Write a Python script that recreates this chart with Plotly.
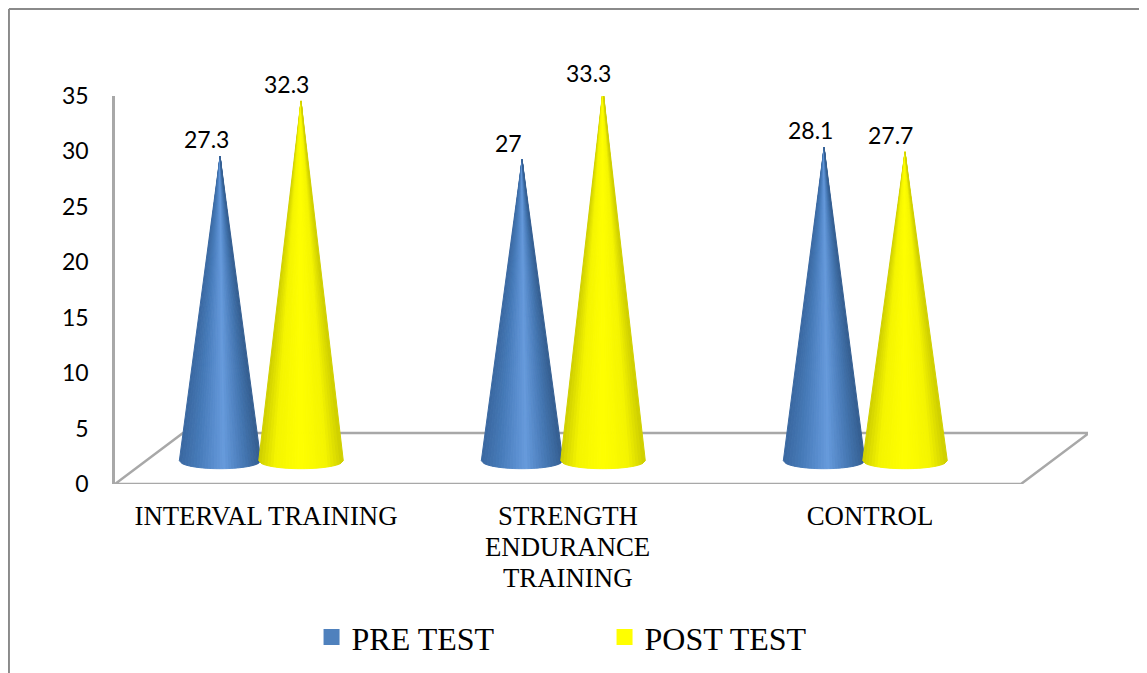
import plotly.graph_objects as go

categories = ["INTERVAL TRAINING", "STRENGTH", "CONTROL"]
category_extra_lines = {1: ["ENDURANCE", "TRAINING"]}
pre_test = [27.3, 27, 28.1]
post_test = [32.3, 33.3, 27.7]
y_ticks = [0, 5, 10, 15, 20, 25, 30, 35]

FLOOR_DX, FLOOR_DY = 0.225, 4.6
BASE_Y, BASE_B, APEX_Y = 2.1, 0.72, 2.25
N = 28


def lerp(a, b, t):
    return tuple(a[i] + (b[i] - a[i]) * t for i in range(3))


def shade(stops, u):
    for (u0, c0), (u1, c1) in zip(stops, stops[1:]):
        if u <= u1:
            c = lerp(c0, c1, (u - u0) / (u1 - u0))
            return "rgb(%d,%d,%d)" % tuple(round(v) for v in c)
    return "rgb(%d,%d,%d)" % stops[-1][1]


BLUE = [(-1, (58, 104, 160)), (-0.55, (70, 122, 184)), (0.1, (102, 154, 220)),
        (0.6, (70, 120, 180)), (1, (52, 94, 144))]
YELLOW = [(-1, (205, 205, 0)), (-0.6, (245, 245, 0)), (0, (255, 255, 0)),
          (0.6, (245, 245, 0)), (1, (205, 205, 0))]


def cone_traces(values, dx, half_w, stops):
    out = []
    for k in range(N):
        u0 = -1 + 2 * k / N
        u1 = -1 + 2 * (k + 1) / N
        xs, ys = [], []
        for i, v in enumerate(values):
            cx = i + dx
            apex = v + APEX_Y
            y0 = BASE_Y - BASE_B * (1 - u0 * u0) ** 0.5
            y1 = BASE_Y - BASE_B * (1 - u1 * u1) ** 0.5
            xs += [cx, cx + half_w * u0, cx + half_w * u1, cx, None]
            ys += [apex, y0, y1, apex, None]
        color = shade(stops, (u0 + u1) / 2)
        out.append(go.Scatter(x=xs, y=ys, mode="lines", fill="toself", fillcolor=color,
                              line=dict(color=color, width=1), showlegend=False,
                              hoverinfo="skip", cliponaxis=False))
    return out


fig = go.Figure()

fig.add_trace(go.Scatter(
    x=[-0.5, -0.5 + FLOOR_DX, 2.5 + FLOOR_DX, 2.5, -0.5],
    y=[0, FLOOR_DY, FLOOR_DY, 0, 0],
    mode="lines", line=dict(color="#a8a8a8", width=2.5), showlegend=False,
    hoverinfo="skip", cliponaxis=False))

for t in cone_traces(pre_test, -0.152, 0.135, BLUE):
    fig.add_trace(t)
for t in cone_traces(post_test, 0.116, 0.14, YELLOW):
    fig.add_trace(t)

# legend entries
fig.add_trace(go.Scatter(x=[None], y=[None], mode="markers", name="PRE TEST",
                         marker=dict(symbol="square", size=16, color="#4F81BD")))
fig.add_trace(go.Scatter(x=[None], y=[None], mode="markers", name="POST TEST",
                         marker=dict(symbol="square", size=16, color="#FFFF00")))

annotations = []
for vals, dx, xs in ((pre_test, -0.152, -14), (post_test, 0.116, -15)):
    for i, v in enumerate(vals):
        annotations.append(dict(x=i + dx, y=v, xref="x", yref="y", text=str(v),
                                showarrow=False, yshift=42, xshift=xs, yanchor="middle",
                                font=dict(family="Lato", size=23, color="#000000")))
for i, lines in category_extra_lines.items():
    for j, line in enumerate(lines):
        annotations.append(dict(x=i, y=0, xref="x", yref="y", text=line, showarrow=False,
                                yshift=-63 - 31 * j, yanchor="middle",
                                font=dict(family="Liberation Serif", size=26.8, color="#000000")))

fig.update_layout(
    width=1139, height=665, autosize=False,
    paper_bgcolor="white", plot_bgcolor="white",
    margin=dict(l=107, r=59, t=88, b=189, autoexpand=False),
    showlegend=True,
    legend=dict(orientation="h", x=0.202, y=-0.395, xref="paper", yref="paper", xanchor="left",
                yanchor="middle", entrywidth=248, entrywidthmode="pixels", itemwidth=30,
                font=dict(family="Liberation Serif", size=32, color="#000000"),
                bgcolor="rgba(0,0,0,0)"),
    annotations=annotations,
    shapes=[
        dict(type="line", xref="paper", yref="paper", x0=-0.109, x1=1.0607, y0=1.224, y1=1.224,
             line=dict(color="#8a8a8a", width=2)),
        dict(type="line", xref="paper", yref="paper", x0=-0.109, x1=-0.109, y0=1.224, y1=-0.487,
             line=dict(color="#8a8a8a", width=2)),
    ],
    xaxis=dict(range=[-0.5, 2.7219], showgrid=False, zeroline=False, showline=False,
               tickmode="array", tickvals=[0, 1, 2], ticktext=categories,
               ticks="", ticklabelstandoff=13,
               tickfont=dict(family="Liberation Serif", size=26.8, color="#000000")),
    yaxis=dict(range=[0, 35], showgrid=False, zeroline=False, showline=True, linecolor="#a8a8a8",
               linewidth=2.5, tickmode="array", tickvals=y_ticks, ticks="", ticklabelstandoff=19,
               tickfont=dict(family="Lato", size=23, color="#000000")),
)

fig.write_html("out.html")
